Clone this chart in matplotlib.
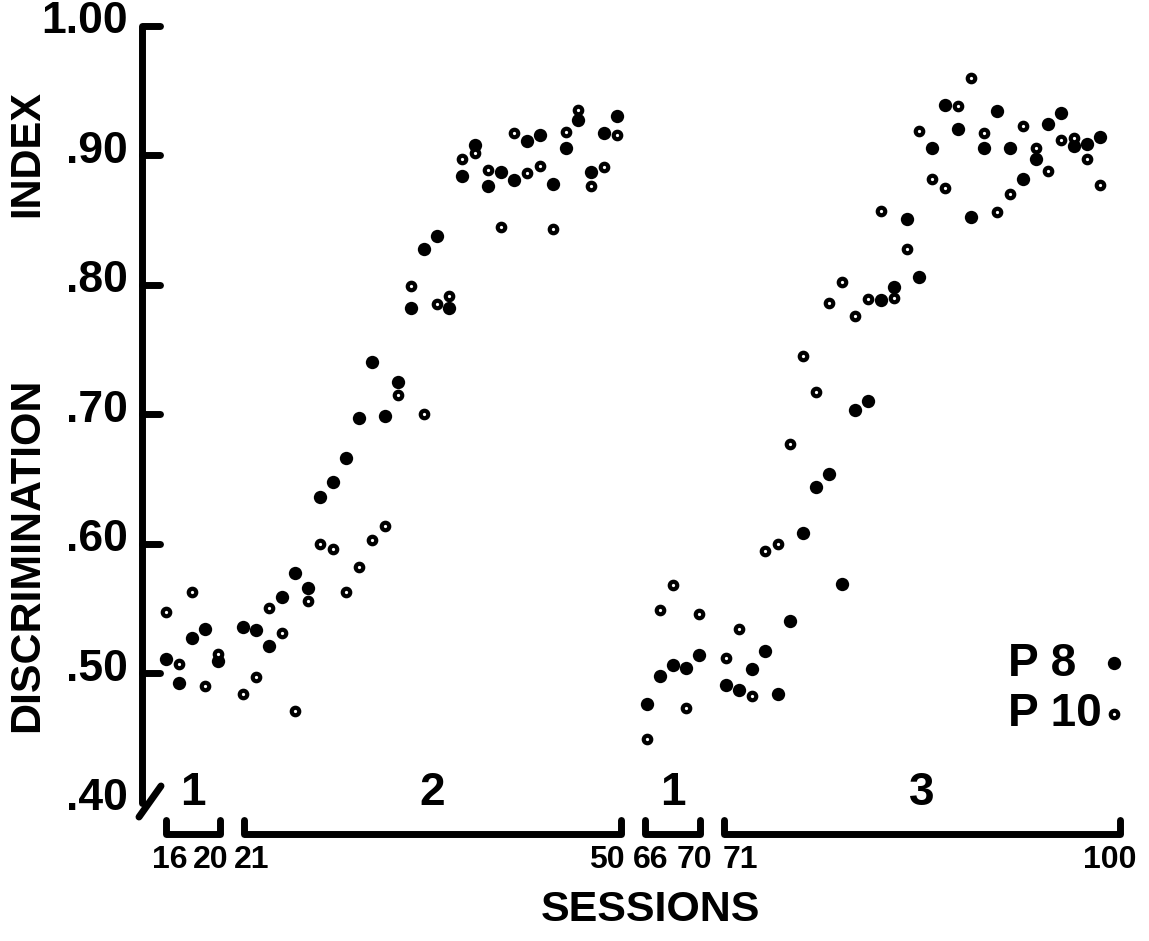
import numpy as np
import matplotlib.pyplot as plt

plt.rcParams['font.family'] = ['Liberation Sans', 'DejaVu Sans']
plt.rcParams['font.weight'] = 'bold'

# discrimination index per session
# phase 1, sessions 16-20
sess_1a = [16, 17, 18, 19, 20]
p8_1a = [.511, .492, .527, .534, .509]
p10_1a = [.547, .507, .563, .490, .515]

# phase 2, sessions 21-50
sess_2 = list(range(21, 51))
p8_2 = [.536, .533, .521, .559, .577, .566, .636, .648, .666, .697,
        .740, .699, .725, .782, .828, .838, .782, .884, .908, .876,
        .887, .881, .911, .916, .878, .906, .927, .887, .917, .930]
p10_2 = [.484, .497, .550, .531, .471, .556, .600, .596, .563, .582,
         .603, .614, .715, .799, .700, .785, .791, .897, .902, .889,
         .845, .917, .886, .892, .843, .918, .935, .876, .891, .916]

# phase 1 again, sessions 66-70
sess_1b = [66, 67, 68, 69, 70]
p8_1b = [.476, .498, .506, .504, .514]
p10_1b = [.449, .549, .568, .473, .546]

# phase 3, sessions 71-100
sess_3 = list(range(71, 101))
p8_3 = [.491, .487, .503, .517, .484, .540, .608, .644, .654, .569,
        .703, .710, .788, .798, .851, .806, .906, .939, .920, .852,
        .906, .934, .906, .882, .897, .924, .933, .907, .909, .914]
p10_3 = [.512, .534, .482, .594, .600, .677, .745, .717, .786, .802,
         .776, .789, .857, .790, .828, .919, .882, .875, .938, .960,
         .917, .856, .870, .923, .906, .888, .912, .913, .897, .877]

phase_names = ['1', '2', '1', '3']
tick_sessions = [16, 20, 21, 50, 66, 70, 71, 100]
y_ticks = [.50, .60, .70, .80, .90, 1.00]
y_labels = ['.40', '.50', '.60', '.70', '.80', '.90', '1.00']
y_label_vals = [.40, .50, .60, .70, .80, .90, 1.00]

blocks = [(sess_1a, p8_1a, p10_1a), (sess_2, p8_2, p10_2),
          (sess_1b, p8_1b, p10_1b), (sess_3, p8_3, p10_3)]

# layout: x is in "session slots", the axis is broken between blocks
block_start = [0.0, 5.97, 37.29, 43.41]
W, H = 1149, 941


def px_x(px):
    return (px - 166) / 12.9


def px_y(py):
    return 0.75 - (py - 349.5) / 1294.5


fig = plt.figure(figsize=(W / 100, H / 100), dpi=100)
ax = fig.add_axes([0, 0, 1, 1])
ax.set_xlim(px_x(0), px_x(W))
ax.set_ylim(px_y(H), px_y(0))
ax.axis('off')

filled = dict(ls='none', marker='o', ms=9.6, color='black', mew=0)
hollow = dict(ls='none', marker='o', ms=5.4, mfc='white', mec='black', mew=3.0)

for (sess, p8, p10), x0 in zip(blocks, block_start):
    x = x0 + np.array(sess) - sess[0]
    ax.plot(x, p8, **filled)
    ax.plot(x, p10, **hollow)

# y axis with a break at the bottom
lw = 5
sx = px_x(142)
ax.plot([px_x(160), sx, sx], [1.00, 1.00, 0.40], color='black', lw=lw,
        solid_capstyle='round', solid_joinstyle='round')
for v in y_ticks[:-1]:
    ax.plot([sx, px_x(160)], [v, v], color='black', lw=lw, solid_capstyle='round')
ax.plot([px_x(161), px_x(139)], [px_y(786), px_y(817)], color='black', lw=lw,
        solid_capstyle='round')
for lab, v in zip(y_labels, y_label_vals):
    ax.text(px_x(128), v + 0.003, lab, ha='right', va='center', fontsize=32)

ax.text(px_x(27), px_y(153), 'INDEX', rotation=90, ha='center', va='center', fontsize=30)
ax.text(px_x(27), px_y(555), 'DISCRIMINATION', rotation=90, ha='center', va='center',
        fontsize=31)

# brackets under each block with phase number above
bracket_px = [(166, 220), (244, 621), (645, 700), (724, 1120)]
yb, yt = px_y(834), px_y(820)
for (l, r), name in zip(bracket_px, phase_names):
    xl, xr = px_x(l), px_x(r)
    ax.plot([xl, xl, xr, xr], [yt, yb, yb, yt], color='black', lw=lw,
            solid_capstyle='round', solid_joinstyle='round')
    ax.text((xl + xr) / 2, px_y(793), name, ha='center', va='center', fontsize=33)

tick_px = [170, 211, 252, 607, 651, 694, 740, 1110]
for s, p in zip(tick_sessions, tick_px):
    ax.text(px_x(p), px_y(860), str(s), ha='center', va='center', fontsize=23)

ax.text(px_x(650), px_y(910), 'SESSIONS', ha='center', va='center', fontsize=31)

# legend
ax.text(px_x(1008), px_y(664), 'P 8', ha='left', va='center', fontsize=33)
ax.text(px_x(1008), px_y(714), 'P 10', ha='left', va='center', fontsize=33)
ax.plot([px_x(1114)], [px_y(663)], **filled)
ax.plot([px_x(1114)], [px_y(714)], **hollow)

fig.savefig('out.png', dpi=100)
